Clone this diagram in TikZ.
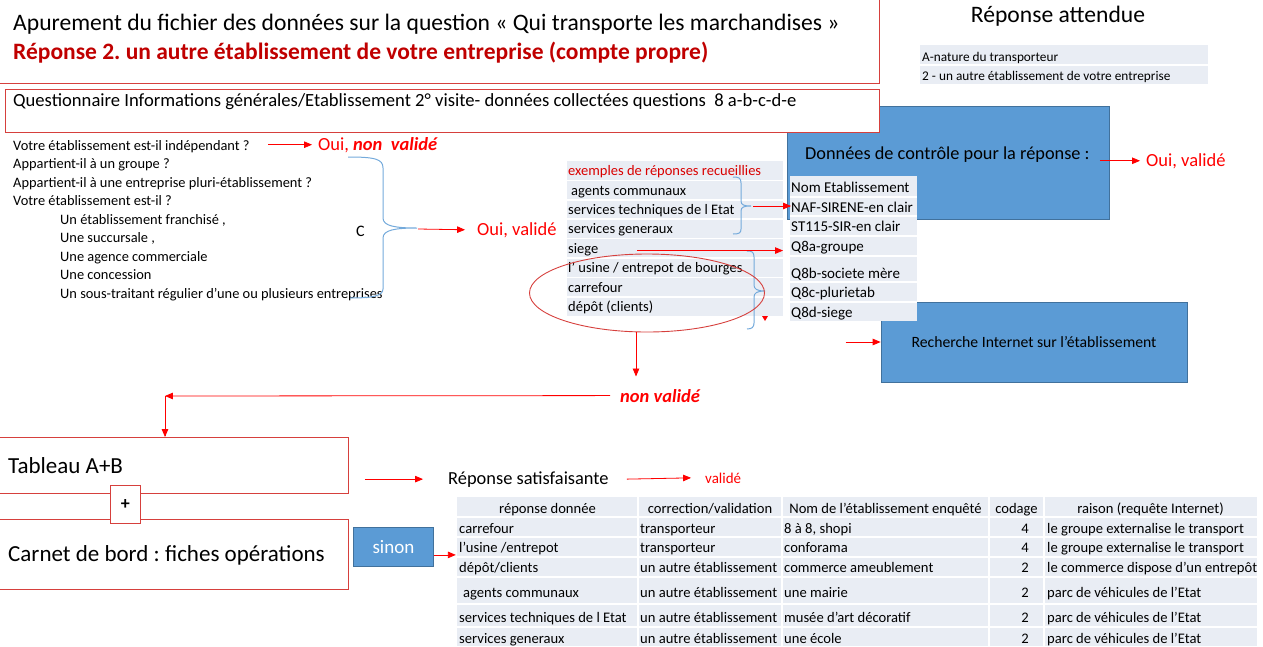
\documentclass[tikz,border=0pt]{standalone}
\usepackage{fontspec}
\setmainfont{Carlito}
\usetikzlibrary{arrows, positioning, shapes.geometric}
\definecolor{cadrerouge}{HTML}{D6403D}
\definecolor{bleuboite}{HTML}{5B9BD5}
\definecolor{bleubord}{HTML}{41719C}
\definecolor{bleuligne}{HTML}{E9EDF4}
\definecolor{rougetitre}{HTML}{C00000}
\newcommand{\taille}[1]{\fontsize{#1}{#1}\selectfont}
\frenchspacing

\begin{document}
\begin{tikzpicture}[x=1pt, y=-1pt,
    cadre/.style = {draw=cadrerouge, fill=white, line width=0.9pt, inner sep=0pt, anchor=north west},
    boite/.style = {draw=bleubord, fill=bleuboite, line width=0.8pt, inner sep=0pt, anchor=north west},
    texte/.style = {anchor=base west, inner sep=0pt, font=\taille{14.4}},
    rouge/.style = {texte, text=red, font=\taille{18.5}},
    fleche/.style = {draw=red, line width=0.8pt, -triangle 45},
    accolade/.style = {draw=bleuboite!85, line width=1pt},
    separe/.style = {draw=white, line width=1.5pt},
    cellule/.style = {texte, font=\taille{14.6}},
    entete/.style = {cellule, anchor=base}]
  \useasboundingbox (0,0) rectangle (1263,646);

  % titre
  \node[cadre, minimum width=881pt, minimum height=85pt] (cadretitre) at (-2,-2) {};
  \node[texte, font=\taille{23.6}] (titre) at (13,30) {Apurement du fichier des données sur la question « Qui transporte les marchandises »};
  \node[texte, font=\bfseries\taille{23.5}, text=rougetitre] (soustitre) at (13,59) {Réponse 2. un autre établissement de votre entreprise (compte propre)};

  % reponse attendue
  \node[anchor=base, inner sep=0pt, font=\taille{23.6}] (attendue) at (1058,22) {Réponse attendue};
  \fill[bleuligne] (920,45) rectangle (1208,84);
  \draw[separe] (920,65) -- (1208,65);
  \node[texte, font=\taille{13.3}] (nature) at (922,61) {A-nature du transporteur};
  \node[texte, font=\taille{13.3}] (code) at (922,80) {2 - un autre établissement de votre entreprise};

  % donnees de controle
  \node[boite, minimum width=322pt, minimum height=113pt] (donnees) at (787,106) {};
  \node[texte, font=\taille{18.3}] (donneestxt) at (805,159) {Données de contrôle pour la réponse :};
  \node[rouge] (ouivalide2) at (1146,166) {Oui, validé};
  \draw[fleche] ([xshift=-10pt]donnees.east |- ouivalide2.west) -- ([xshift=-6pt]ouivalide2.west);

  \node[cadre, minimum width=874pt, minimum height=43pt] (cadrequest) at (5,89) {};
  \node[texte, font=\taille{18.6}] (questtxt) at (13,106) {Questionnaire Informations générales/Etablissement 2° visite- données collectées questions~~8 a-b-c-d-e};

  % recherche internet
  \node[boite, anchor=center, minimum width=306pt, minimum height=80pt, font=\taille{15.7}] (recherche) at (1034,342) {Recherche Internet sur l’établissement};
  \draw[fleche] ([xshift=-35pt]recherche.west) -- (recherche.west);

  \fill[bleuligne] (790,176) rectangle (917,321);
  \foreach \y in {197,216,236,256,282,302}
    \draw[separe] (790,\y) -- (917,\y);
  \foreach \t/\y/\n in {Nom Etablissement/192/nom, NAF-SIRENE-en clair/212/naf, ST115-SIR-en clair/231/st, Q8a-groupe/251/qa,
      Q8b-societe mère/278/qb, Q8c-plurietab/297/qc, Q8d-siege/317/qd}
    \node[texte, font=\taille{15}] (\n) at (791,\y) {\t};

  % questions
  \foreach \t [count=\i from 0] in {Votre établissement est-il indépendant ?, Appartient-il à un groupe ?,
      Appartient-il à une entreprise pluri-établissement ?, Votre établissement est-il ?,
      {\hspace*{47pt}Un établissement franchisé ,}, {\hspace*{47pt}Une succursale ,},
      \hspace*{47pt}Une agence commerciale, \hspace*{47pt}Une concession,
      \hspace*{47pt}Un sous-traitant régulier d’une ou plusieurs entreprises}
    \node[texte] (q\i) at (13,150+18.5*\i) {\t};
  \node[rouge] (ouinon) at (318,150) {Oui, \textbf{\textit{non~~validé}}};
  \draw[fleche] ([xshift=-50pt]ouinon.west) -- ([xshift=-6pt]ouinon.west);

  \draw[accolade] (348,157) .. controls (375,157) and (383,159) .. (383,168) -- (383,218)
    .. controls (383,226) and (395,228) .. (417,228) .. controls (395,228) and (383,230) .. (383,238)
    -- (383,289) .. controls (383,296) and (372,298) .. (350,298);
  \coordinate (pointe) at (418,229);
  \node[texte, font=\taille{16}] (lettre) at (356,236) {C};
  \node[rouge] (ouivalide) at (477,235) {Oui, validé};
  \draw[fleche] (pointe) -- ([xshift=-12pt]ouivalide.west);

  % exemples de reponses
  \fill[bleuligne] (567,161) rectangle (783,316);
  \foreach \y in {180.4,199.8,219.2,238.6,258,277.4,296.8}
    \draw[separe] (567,\y) -- (783,\y);
  \node[texte, text=red!85!black, font=\taille{14.5}] (ex0) at (568,175.7) {exemples de réponses recueillies};
  \foreach \t [count=\i] in {\hspace*{3pt}agents communaux, services techniques de l Etat, services generaux, siege,
      l' usine / entrepot de bourges, carrefour, dépôt (clients)}
    \node[texte, font=\taille{14.5}] (ex\i) at (568,175.7+19.4*\i) {\t};

  \draw[accolade] (733,177) .. controls (739,177) and (741,178) .. (741,183) -- (741,201)
    .. controls (741,205) and (744,206) .. (751,206) .. controls (744,206) and (741,207) .. (741,211)
    -- (741,229) .. controls (741,233) and (739,234) .. (733,234);
  \coordinate (pointe1) at (753,206);
  \draw[fleche] (pointe1) -- (pointe1 -| naf.west);
  \draw[accolade] (747,251) .. controls (752,251) and (754,252) .. (754,257) -- (754,285)
    .. controls (754,289) and (757,291) .. (765,291) .. controls (757,291) and (754,293) .. (754,297)
    -- (754,323) .. controls (754,327) and (752,329) .. (747,329);
  \fill[red] (762,316) -- (768,316) -- (765,321) -- cycle;

  \node[draw=cadrerouge, line width=0.9pt, ellipse, minimum width=235pt, minimum height=78pt, inner sep=0pt] (cercle) at (647,293) {};
  \draw[fleche] ([xshift=-10pt, yshift=3pt]cercle.north) -- ([xshift=-8pt, yshift=3pt]qa.west |- cercle.north);
  \draw[fleche] ([xshift=-11pt]cercle.south) -- ++(0,44);

  % non valide
  \node[rouge, font=\bfseries\itshape\taille{18.5}] (nonvalide) at (620,402) {non validé};
  \coordinate (coin) at (165,396);
  \draw[fleche] ([xshift=-10pt]nonvalide.west) -- (coin);
  \node[cadre, minimum width=350pt, minimum height=56pt] (tableau) at (-2,437) {};
  \draw[fleche] (coin) -- (coin |- tableau.north);
  \node[texte, font=\taille{23}] (tableautxt) at (8,473) {Tableau A+B};
  \node[cadre, minimum width=350pt, minimum height=70pt] (carnet) at (-2,519) {};
  \node[texte, font=\taille{23}] (carnettxt) at (8,561) {Carnet de bord : fiches opérations};
  \node[cadre, minimum width=30pt, minimum height=38pt, font=\bfseries\taille{18}] (plus) at (110,485) {+};

  % reponse satisfaisante
  \node[texte, font=\taille{18.4}] (satisf) at (448,484) {Réponse satisfaisante};
  \node[texte, text=red, font=\taille{15}] (valide) at (705,483) {validé};
  \draw[fleche] ([xshift=16pt]tableau.east |- satisf.west) -- ([xshift=-25pt]satisf.west);
  \draw[fleche] ([xshift=18pt]satisf.east) -- ([xshift=-14pt]valide.west);
  \node[boite, minimum width=80pt, minimum height=39pt, text=white, font=\taille{19}] (sinon) at (353,527) {sinon};
  \draw[fleche] ([yshift=-8pt]sinon.east) -- ++(22,0);

  % tableau des corrections
  \fill[bleuligne] (457,497) rectangle (1257,646);
  \foreach \y in {517,537,557,577,604,627}
    \draw[separe] (457,\y) -- (1257,\y);
  \foreach \x in {638,782,989,1044}
    \draw[separe] (\x,497) -- (\x,646);
  \foreach \t/\x [count=\i] in {réponse donnée/547.5, correction\slash validation/710, Nom de l'établissement enquêté/885.5,
      codage/1016.5, raison (requête Internet)/1150.5}
    \node[entete] (ent\i) at (\x,513) {\t};
  \foreach \a/\b/\c/\d/\e/\y [count=\i] in {
      carrefour/transporteur/{8 à 8, shopi}/4/le groupe externalise le transport/533,
      l'usine \slash entrepot/transporteur/conforama/4/le groupe externalise le transport/552,
      dépôt\slash clients/un autre établissement/commerce ameublement/2/le commerce dispose d'un entrepôt/572,
      \hspace*{4pt}agents communaux/un autre établissement/une mairie/2/parc de véhicules de l'Etat/597,
      services techniques de l Etat/un autre établissement/musée d'art décoratif/2/parc de véhicules de l'Etat/622,
      services generaux/un autre établissement/une école/2/parc de véhicules de l'Etat/643}
  {
    \node[cellule] (rep\i) at (459,\y) {\a};
    \node[cellule] (cor\i) at (640,\y) {\b};
    \node[cellule] (nom\i) at (784,\y) {\c};
    \node[entete] (cod\i) at (1025,\y) {\d};
    \node[cellule] (rai\i) at (1047,\y) {\e};
  }
\end{tikzpicture}
\end{document}
